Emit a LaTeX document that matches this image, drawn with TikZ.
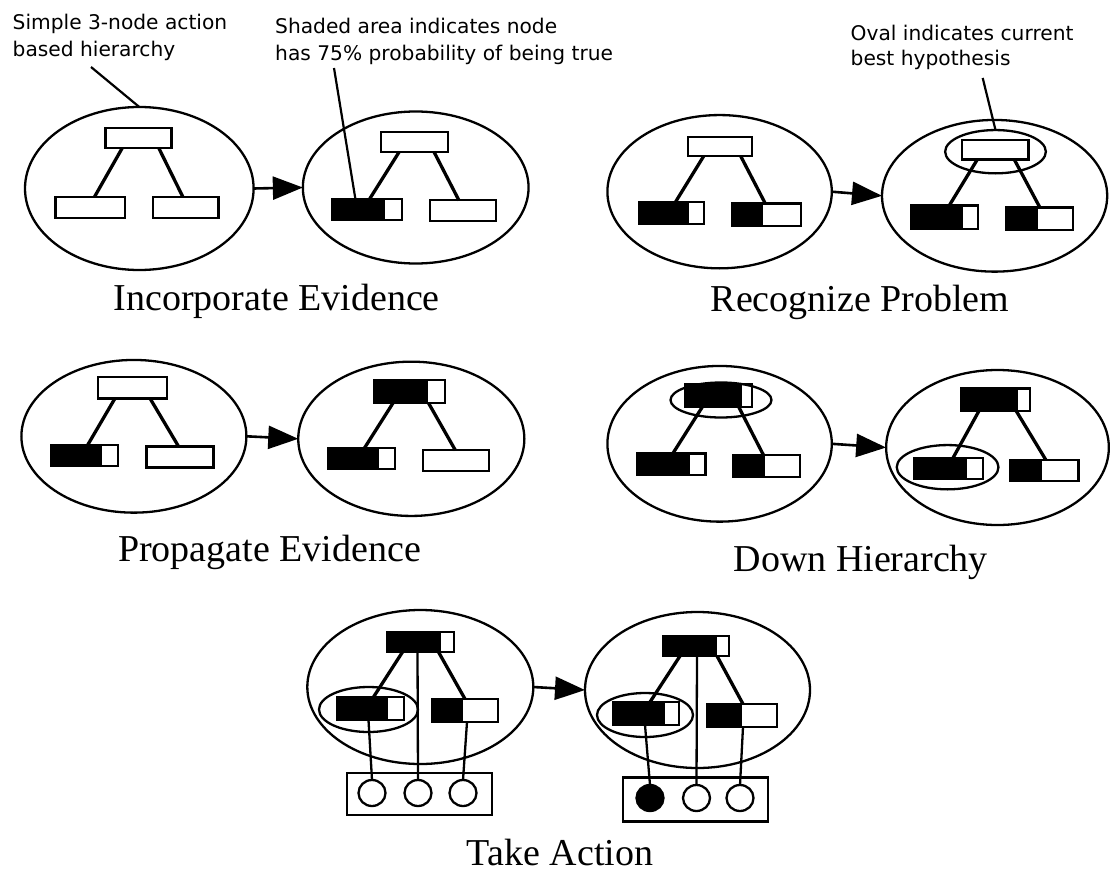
\documentclass[tikz,border=0pt]{standalone}
\usepackage{fontspec}
\setmainfont{Liberation Serif}
\newfontfamily\annfont{DejaVu Sans}
\usetikzlibrary{shapes.geometric,arrows.meta,calc}
\begin{document}
\begin{tikzpicture}[x=1pt,y=-1pt,
  bigov/.style 2 args={draw, ellipse, line width=2.3pt, inner sep=0pt, outer sep=0pt, minimum width=#1pt, minimum height=#2pt},
  hb/.style={draw, rectangle, line width=2.3pt, minimum width=67pt, minimum height=21pt, inner sep=0pt, outer sep=0pt},
  hbl/.style={hb, minimum height=23pt},
  shd/.style={path picture={\fill[black] let \p1=(path picture bounding box.south west), \p2=(path picture bounding box.north east) in (\p1) rectangle ({\x1+#1*(\x2-\x1)},\y2);}},
  link/.style={line width=3.3pt},
  thin link/.style={line width=2.3pt},
  arr/.style={line width=2.6pt, -{Triangle[length=30pt,width=23pt]}},
  pointer/.style={line width=2.2pt},
  cir/.style={draw, ellipse, line width=2.3pt, minimum width=27pt, minimum height=26pt, inner sep=0pt, outer sep=0pt},
  abox/.style={draw, rectangle, line width=2.3pt, inner sep=0pt, outer sep=0pt, minimum width=145pt, minimum height=42pt},
  ann/.style={font=\annfont\fontsize{20.2}{24}\selectfont, inner sep=0pt, anchor=base west},
  captxt/.style={font=\fontsize{38}{42}\selectfont, inner sep=0pt, anchor=base}
]
\useasboundingbox (0,0) rectangle (1110,872);

% ---------- annotations ----------
\node[ann] (ann1a) at (12.5,30) {Simple 3-node action};
\node[ann] (ann1b) at (12.5,56.5) {based hierarchy};
\node[ann] (ann2a) at (275,33.5) {Shaded area indicates node};
\node[ann] (ann2b) at (275,60.5) {has 75\% probability of being true};
\node[ann] (ann3a) at (850.5,40.5) {Oval indicates current};
\node[ann] (ann3b) at (850.5,66) {best hypothesis};
\coordinate (p1) at (91,67);
\coordinate (p2) at (334,68);
\coordinate (p3) at (982.7,78);

% ---------- Panel 1: Incorporate Evidence ----------
\node[bigov={228.6}{163}] (e1a) at (139.3,188.5) {};
\node[hb, minimum width=66pt, minimum height=20pt] (t1a) at (138.4,138.3) {};
\node[hb, minimum width=69.6pt] (l1a) at (90.2,207.2) {};
\node[hb, minimum width=65.7pt] (r1a) at (185.7,207.5) {};
\draw[link] ([xshift=-16.3pt]t1a.south) -- ([xshift=4.4pt]l1a.north);
\draw[link] ([xshift=20.5pt]t1a.south) -- ([xshift=-2.8pt]r1a.north);

\node[bigov={225.7}{152}] (e1b) at (415.7,187.5) {};
\node[hb, minimum height=20pt] (t1b) at (414.8,141.7) {};
\node[hb, minimum width=69.6pt, shd=0.76] (l1b) at (367,209.5) {};
\node[hb, minimum width=65.4pt] (r1b) at (463,210.8) {};
\draw[link] ([xshift=-15.5pt]t1b.south) -- ([xshift=2.6pt]l1b.north);
\draw[link] ([xshift=19.1pt]t1b.south) -- ([xshift=-4.1pt]r1b.north);
\draw[arr] (e1a.east) -- (e1b.west);
\node[captxt] (cap1) at (276.8,310.7) {Incorporate Evidence};

\draw[pointer] (p1) -- (e1a.north);
\draw[pointer] (p2) -- ([xshift=-11.6pt]l1b.north);

% ---------- Panel 2: Recognize Problem ----------
\node[bigov={224.4}{153.3}] (e2a) at (719.6,191.7) {};
\node[hb, minimum width=64.2pt, minimum height=19.3pt] (t2a) at (720.1,146.3) {};
\node[hb, minimum width=65pt, minimum height=22.3pt, shd=0.77] (l2a) at (671.4,212.8) {};
\node[hb, minimum width=69.4pt, minimum height=22.7pt, shd=0.45] (r2a) at (766.6,214.7) {};
\draw[link] ([xshift=-16.3pt]t2a.south) -- ([xshift=4.3pt]l2a.north);
\draw[link] ([xshift=20.5pt]t2a.south) -- ([xshift=-1.4pt]r2a.north);

\node[bigov={225.2}{151.7}] (e2b) at (994.6,195.8) {};
\node[hb, minimum width=66.7pt, minimum height=19.3pt] (t2b) at (995,149.7) {};
\node[bigov={100.7}{43.3}] (o2b) at (995.5,151.7) {};
\node[hb, minimum height=23.5pt, shd=0.77] (l2b) at (944.5,217.2) {};
\node[hb, minimum height=22.7pt, shd=0.47] (r2b) at (1039.5,218.7) {};
\draw[link] ([xshift=-17.6pt]t2b.south) -- ([xshift=4.8pt]l2b.north);
\draw[link] ([xshift=19.2pt]t2b.south) -- ([xshift=0.3pt]r2b.north);
\draw[arr] (e2a.east) -- (e2b.west);
\node[captxt] (cap2) at (860,311.7) {Recognize Problem};

\draw[pointer] (p3) -- (o2b.north);

% ---------- Panel 3: Propagate Evidence ----------
\node[bigov={225}{152.7}] (e3a) at (133.9,436.3) {};
\node[hb, minimum width=68.9pt, minimum height=21.7pt] (t3a) at (132.7,387.5) {};
\node[hb, shd=0.76] (l3a) at (84.3,455.8) {};
\node[hb] (r3a) at (180,457) {};
\draw[link] ([xshift=-17.7pt]t3a.south) -- ([xshift=3.2pt]l3a.north);
\draw[link] ([xshift=17.3pt]t3a.south) -- ([xshift=-1.4pt]r3a.north);

\node[bigov={226.1}{154.3}] (e3b) at (411.3,438.8) {};
\node[hb, minimum width=70.3pt, minimum height=23pt, shd=0.77] (t3b) at (409.5,391.7) {};
\node[hb, shd=0.76] (l3b) at (361.3,458.8) {};
\node[hb, minimum width=66pt] (r3b) at (456.3,460.8) {};
\draw[link] ([xshift=-16.6pt]t3b.south) -- ([xshift=3pt]l3b.north);
\draw[link] ([xshift=19.1pt]t3b.south) -- ([xshift=-0.9pt]r3b.north);
\draw[arr] (e3a.east) -- (e3b.west);
\node[captxt] (cap3) at (269.6,561.7) {Propagate Evidence};

% ---------- Panel 4: Down Hierarchy ----------
\node[bigov={224.4}{155.7}] (e4a) at (719.6,443.8) {};
\node[hb, minimum width=66.6pt, minimum height=23pt, shd=0.84] (t4a) at (718.9,395.8) {};
\node[bigov={101}{35}] (o4a) at (721,400) {};
\node[hb, minimum width=68.4pt, minimum height=21.7pt, shd=0.77] (l4a) at (671.4,464.2) {};
\node[hb, minimum width=67.4pt, minimum height=21.7pt, shd=0.48] (r4a) at (766.6,465.8) {};
\draw[link] ([xshift=-16.8pt]t4a.south) -- ([xshift=1.5pt]l4a.north);
\draw[link] ([xshift=20pt]t4a.south) -- ([xshift=-3.2pt]r4a.north);

\node[bigov={222.7}{155}] (e4b) at (997.5,447.5) {};
\node[hb, minimum width=68.4pt, minimum height=22.3pt, shd=0.82] (t4b) at (995.8,399.5) {};
\node[hb, minimum width=68.4pt, shd=0.77] (l4b) at (948.5,468.8) {};
\node[bigov={101.7}{44.3}] (o4b) at (947.6,467.2) {};
\node[hb, minimum width=68.7pt, shd=0.475] (r4b) at (1044,470.3) {};
\draw[link] ([xshift=-16.7pt]t4b.south) -- ([xshift=4.3pt]l4b.north);
\draw[link] ([xshift=20.2pt]t4b.south) -- ([xshift=1.8pt]r4b.north);
\draw[arr] (e4a.east) -- (e4b.west);
\node[captxt] (cap4) at (860.8,571.7) {Down Hierarchy};

% ---------- Panel 5: Take Action ----------
\node[bigov={226}{154}] (e5a) at (420.3,687) {};
\node[hb, minimum height=20pt, shd=0.8] (t5a) at (420.5,642) {};
\node[hbl, shd=0.76] (l5a) at (370.5,708.5) {};
\node[bigov={99}{45}] (o5a) at (368.5,709.5) {};
\node[hbl, minimum width=66pt, shd=0.47] (r5a) at (465,710.5) {};
\node[abox] (b5a) at (419.5,794) {};
\node[cir] (c5a1) at (372,793) {};
\node[cir] (c5a2) at (418,793) {};
\node[cir] (c5a3) at (463,793) {};
\draw[link] ([xshift=-18pt]t5a.south) -- ([xshift=3pt]l5a.north);
\draw[thin link] ([xshift=-3pt]t5a.south) -- (c5a2.north);
\draw[link] ([xshift=18pt]t5a.south) -- (r5a.north);
\draw[thin link] ([xshift=-2pt]l5a.south) -- (c5a1.north);
\draw[thin link] ([xshift=2pt]r5a.south) -- (c5a3.north);

\node[bigov={225}{156}] (e5b) at (697.5,690) {};
\node[hb, minimum width=66pt, minimum height=20pt, shd=0.82] (t5b) at (696,646) {};
\node[hbl, minimum width=66pt, shd=0.79] (l5b) at (646,713.5) {};
\node[bigov={96}{44}] (o5b) at (645,715) {};
\node[hbl, minimum width=70pt, shd=0.5] (r5b) at (742,715.5) {};
\node[abox, minimum height=44pt] (b5b) at (695.5,799.5) {};
\node[cir, fill=black] (c5b1) at (650,798) {};
\node[cir] (c5b2) at (696.5,798) {};
\node[cir] (c5b3) at (740,798) {};
\draw[link] ([xshift=-16pt]t5b.south) -- ([xshift=4pt]l5b.north);
\draw[thin link] ([xshift=1pt]t5b.south) -- (c5b2.north);
\draw[link] ([xshift=21pt]t5b.south) -- ([xshift=1pt]r5b.north);
\draw[thin link] ([xshift=-1pt]l5b.south) -- (c5b1.north);
\draw[thin link] ([xshift=1pt]r5b.south) -- (c5b3.north);
\draw[arr] (e5a.east) -- (e5b.west);
\node[captxt] (cap5) at (560,865) {Take Action};
\end{tikzpicture}
\end{document}
